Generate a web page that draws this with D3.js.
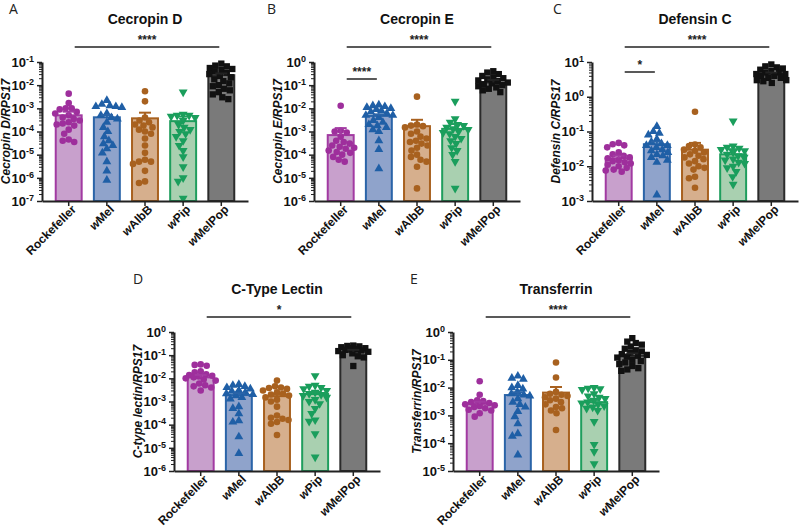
<!DOCTYPE html>
<html>
<head>
<meta charset="utf-8">
<script src="https://cdn.jsdelivr.net/npm/d3@7"></script>
<style>
  html, body { margin: 0; padding: 0; background: #fff; }
  svg { display: block; font-family: "Liberation Sans", Arial, sans-serif; }
</style>
</head>
<body>
<svg id="chart" width="800" height="528"></svg>
<script>
// ---------------- DATA ----------------
const categories = ["Rockefeller", "wMel", "wAlbB", "wPip", "wMelPop"];
const panelLetters = ["A", "B", "C", "D", "E"];
const panelTitles = ["Cecropin D", "Cecropin E", "Defensin C", "C-Type Lectin", "Transferrin"];
const yAxisTitles = ["Cecropin D/RPS17", "Cecropin E/RPS17", "Defensin C/RPS17", "C-type lectin/RPS17", "Transferrin/RPS17"];
// log10 exponent range of each y axis [min, max]
const yExponentRanges = [[-7, -1], [-6, 0], [-3, 1], [-6, 0], [-5, 0]];

// Cecropin D
const cecropinD_means = [5e-4, 4.1e-4, 3.7e-4, 2.8e-4, 2.7e-2];
const cecropinD_caps = [7.2e-4, 5.2e-4, 6.5e-4, 4.4e-4, 3.2e-2];
const cecropinD_points = [
  [4.3e-3, 1.7e-3, 1.0e-3, 1.0e-3, 9e-4, 7e-4, 6e-4, 5e-4, 4e-4, 3.5e-4, 3e-4, 2.5e-4, 2.2e-4, 2e-4, 1.8e-4, 1.2e-4, 8e-5, 4.5e-5, 4e-5, 3.5e-5],
  [2.2e-3, 1.5e-3, 1.3e-3, 1.2e-3, 1.2e-3, 1.1e-3, 6e-4, 5e-4, 4e-4, 3.5e-4, 2.5e-4, 1.5e-4, 1e-4, 6e-5, 4e-5, 3e-5, 2.5e-5, 1.8e-5, 1.2e-5, 5e-6, 2e-6, 8e-7],
  [5.5e-3, 2e-3, 4e-4, 3e-4, 2.5e-4, 2e-4, 1.8e-4, 1.5e-4, 1.2e-4, 1e-4, 8e-5, 5e-5, 2.5e-5, 1.2e-5, 6e-6, 5e-6, 5e-6, 4e-6, 2e-6, 7e-7, 6e-7],
  [5e-3, 5.5e-4, 5e-4, 5e-4, 4.5e-4, 4e-4, 3e-4, 2e-4, 1.5e-4, 1.2e-4, 1e-4, 8e-5, 6e-5, 4e-5, 2.5e-5, 1.5e-5, 8e-6, 3e-6, 1e-6, 7e-7, 1.3e-7],
  [0.085, 0.07, 0.065, 0.055, 0.05, 0.045, 0.04, 0.035, 0.03, 0.025, 0.022, 0.018, 0.015, 0.012, 0.01, 0.009, 0.007, 0.006, 0.005, 0.004, 0.003, 0.0025]
];
const cecropinD_sig = [["Rockefeller", "wMelPop", "****"]];

// Cecropin E
const cecropinE_means = [7e-4, 4.7e-3, 1.7e-3, 1.3e-3, 0.13];
const cecropinE_caps = [1.4e-3, 5.5e-3, 3.2e-3, 2.1e-3, 0.17];
const cecropinE_points = [
  [1.3e-2, 1.1e-3, 1e-3, 9e-4, 6e-4, 4e-4, 3.5e-4, 3e-4, 2.5e-4, 2.2e-4, 2e-4, 1.8e-4, 1.5e-4, 1.3e-4, 1.2e-4, 1e-4, 8e-5, 6e-5, 5e-5],
  [1.4e-2, 1.3e-2, 1.2e-2, 1.1e-2, 1e-2, 9e-3, 8e-3, 7e-3, 6e-3, 5e-3, 5e-3, 4e-3, 3e-3, 2.5e-3, 2e-3, 1.8e-3, 1.5e-3, 1.2e-3, 1e-3, 4e-4, 1.7e-4, 2.5e-5],
  [3.2e-2, 2e-3, 1.8e-3, 1.7e-3, 1.5e-3, 1e-3, 8e-4, 6e-4, 5e-4, 4e-4, 3.5e-4, 3e-4, 2.5e-4, 2e-4, 1.5e-4, 1e-4, 8e-5, 6e-5, 5e-5, 3e-5, 3.5e-6],
  [2e-2, 3.5e-3, 2.5e-3, 2e-3, 1.8e-3, 1.5e-3, 1.3e-3, 1.2e-3, 1e-3, 9e-4, 8e-4, 6e-4, 5e-4, 4e-4, 3e-4, 2e-4, 1.5e-4, 1e-4, 5e-5, 3.5e-6],
  [0.4, 0.35, 0.3, 0.25, 0.22, 0.2, 0.18, 0.16, 0.15, 0.13, 0.12, 0.11, 0.1, 0.09, 0.08, 0.07, 0.06, 0.05]
];
const cecropinE_sig = [["Rockefeller", "wMelPop", "****"], ["Rockefeller", "wMel", "****"]];

// Defensin C
const defensinC_means = [1.7e-2, 4.3e-2, 3e-2, 2.2e-2, 4.5];
const defensinC_caps = [2e-2, 5.1e-2, 4.7e-2, 3.1e-2, 5.0];
const defensinC_points = [
  [4.7e-2, 4.3e-2, 4e-2, 3.5e-2, 2.5e-2, 2.2e-2, 2e-2, 1.8e-2, 1.7e-2, 1.5e-2, 1.4e-2, 1.3e-2, 1.2e-2, 1.1e-2, 1e-2, 9e-3, 8e-3, 7.5e-3, 7e-3],
  [0.14, 0.1, 0.09, 0.08, 0.06, 0.05, 0.045, 0.04, 0.04, 0.035, 0.03, 0.028, 0.025, 0.022, 0.02, 0.018, 0.015, 0.013, 1.5e-3],
  [0.37, 0.042, 0.038, 0.035, 0.03, 0.028, 0.025, 0.022, 0.02, 0.018, 0.016, 0.014, 0.012, 0.01, 0.009, 0.008, 0.005, 0.0045, 0.0024],
  [0.2, 0.038, 0.035, 0.033, 0.03, 0.028, 0.025, 0.022, 0.02, 0.018, 0.016, 0.015, 0.013, 0.012, 0.01, 0.009, 0.007, 0.005, 0.003],
  [8.5, 7.5, 7, 6.5, 6, 5.5, 5, 5, 4.5, 4.5, 4, 4, 3.5, 3.5, 3, 3, 2.8, 2.5]
];
const defensinC_sig = [["Rockefeller", "wMelPop", "****"], ["Rockefeller", "wMel", "*"]];

// C-type lectin
const lectin_means = [1.1e-2, 1.9e-3, 1.7e-3, 2.1e-3, 0.14];
const lectin_caps = [1.4e-2, 2.3e-3, 2.0e-3, 2.6e-3, 0.17];
const lectin_points = [
  [4e-2, 3.8e-2, 3.5e-2, 2e-2, 1.8e-2, 1.5e-2, 1.4e-2, 1.3e-2, 1.2e-2, 1.1e-2, 1e-2, 9e-3, 8e-3, 6e-3, 5e-3, 4.5e-3, 4e-3, 3e-3],
  [5.5e-3, 5e-3, 4.5e-3, 4e-3, 3.5e-3, 3e-3, 2.8e-3, 2.5e-3, 2.2e-3, 2e-3, 1.8e-3, 1.5e-3, 1.3e-3, 6e-4, 5e-4, 3e-4, 1.5e-4, 1.3e-4, 3e-5, 5.7e-6],
  [8e-3, 4.5e-3, 4e-3, 3.8e-3, 3.5e-3, 3e-3, 2.5e-3, 2.2e-3, 2e-3, 1.8e-3, 1.5e-3, 1.2e-3, 1e-3, 6e-4, 2.5e-4, 2e-4, 1.8e-4, 1.6e-4, 1.3e-4, 1.1e-4, 3.6e-5],
  [1.3e-2, 5e-3, 4.5e-3, 4e-3, 3.5e-3, 3e-3, 2.5e-3, 2.2e-3, 2e-3, 1.8e-3, 1.5e-3, 1.2e-3, 1e-3, 8e-4, 5e-4, 3e-4, 1.6e-4, 1.4e-4, 4e-5, 4e-6],
  [0.26, 0.25, 0.24, 0.22, 0.2, 0.2, 0.18, 0.17, 0.16, 0.15, 0.14, 0.12, 0.1, 0.09, 0.08, 0.034]
];
const lectin_sig = [["Rockefeller", "wMelPop", "*"]];

// Transferrin
const transferrin_means = [2.6e-3, 5.4e-3, 6.6e-3, 3e-3, 0.14];
const transferrin_caps = [3.1e-3, 6.8e-3, 1.05e-2, 3.6e-3, 0.17];
const transferrin_points = [
  [1.7e-2, 5.5e-3, 3.5e-3, 3.3e-3, 3e-3, 2.8e-3, 2.5e-3, 2.3e-3, 2.2e-3, 2e-3, 1.8e-3, 1.6e-3, 1.5e-3, 1.2e-3, 9e-4],
  [2.6e-2, 2.2e-2, 2e-2, 1.2e-2, 1e-2, 9e-3, 7e-3, 6e-3, 5.5e-3, 5e-3, 4e-3, 3e-3, 2.5e-3, 2e-3, 1.4e-3, 9e-4, 5e-4, 2.2e-4, 1.8e-4, 3.8e-5],
  [8e-2, 2.3e-2, 7e-3, 6e-3, 5.5e-3, 5e-3, 4.5e-3, 4e-3, 3.5e-3, 3e-3, 2.5e-3, 2e-3, 1.8e-3, 1.5e-3, 1.2e-3, 3e-4],
  [1e-2, 9.5e-3, 9e-3, 8.5e-3, 6e-3, 5e-3, 4.5e-3, 4e-3, 3.5e-3, 3e-3, 2.8e-3, 2.5e-3, 2.2e-3, 2e-3, 1.8e-3, 1.5e-3, 6e-4, 9e-5, 5e-5, 1.8e-5],
  [0.6, 0.45, 0.4, 0.35, 0.3, 0.25, 0.22, 0.2, 0.18, 0.16, 0.15, 0.14, 0.13, 0.12, 0.1, 0.09, 0.08, 0.07, 0.06, 0.05, 0.045, 0.04]
];
const transferrin_sig = [["Rockefeller", "wMelPop", "****"]];

// ---------------- STYLE / LAYOUT ----------------
const pointColors = ["#9e2f9c", "#1f5fa6", "#a8611f", "#1a9e5c", "#111111"];
const barFills = ["#c8a0cc", "#8fa3cb", "#d6af8d", "#a9d0b0", "#7a7a7a"];
const barStrokes = ["#a23aa2", "#2a64a8", "#a8611f", "#1f9e5d", "#2b2b2b"];
const symbolTypes = ["circle", "triangleUp", "circle", "triangleDown", "square"];

const panels = [
  { means: cecropinD_means, caps: cecropinD_caps, points: cecropinD_points, sig: cecropinD_sig, x0: 42, top: 62, bottom: 201, letterX: 9, letterY: 14, sig2Y: null },
  { means: cecropinE_means, caps: cecropinE_caps, points: cecropinE_points, sig: cecropinE_sig, x0: 314, top: 62, bottom: 201, letterX: 267, letterY: 14, sig2Y: 79 },
  { means: defensinC_means, caps: defensinC_caps, points: defensinC_points, sig: defensinC_sig, x0: 592, top: 62, bottom: 201, letterX: 553, letterY: 14, sig2Y: 72 },
  { means: lectin_means, caps: lectin_caps, points: lectin_points, sig: lectin_sig, x0: 174, top: 332, bottom: 471, letterX: 133, letterY: 284, sig2Y: null },
  { means: transferrin_means, caps: transferrin_caps, points: transferrin_points, sig: transferrin_sig, x0: 453, top: 332, bottom: 471, letterX: 410, letterY: 284, sig2Y: null }
];

const svg = d3.select("#chart");
const plotW = 206;
const R = 3;
const MAXOFF = 15;

function swarm(vals, y, r) {
  const pts = vals.map(v => ({ v, py: y(v) })).sort((a, b) => a.py - b.py);
  const placed = [];
  const d = 2 * r;
  for (const p of pts) {
    let chosen = null, bestOff = 0, bestScore = -Infinity;
    for (let k = 0; k < 200; k++) {
      const off = (k % 2 === 0 ? 1 : -1) * Math.ceil(k / 2) * 0.5;
      if (Math.abs(off) > MAXOFF) break;
      let minD = Infinity;
      for (const q of placed) {
        const dx = q.dx - off, dy = q.py - p.py;
        minD = Math.min(minD, Math.sqrt(dx * dx + dy * dy));
      }
      if (minD >= d) { chosen = off; break; }
      if (minD > bestScore) { bestScore = minD; bestOff = off; }
    }
    p.dx = chosen === null ? bestOff : chosen;
    placed.push(p);
  }
  return placed;
}

function superscriptLabel(sel, exp) {
  sel.text(null);
  sel.append("tspan").text("10");
  sel.append("tspan").attr("dy", "-0.55em").attr("font-size", "9px").text(String(exp));
}

panels.forEach((P, pi) => {
  const g = svg.append("g");
  const [emin, emax] = yExponentRanges[pi];
  const y = d3.scaleLog().domain([Math.pow(10, emin), Math.pow(10, emax)]).range([P.bottom, P.top]);
  const x = d3.scaleBand().domain(categories).range([P.x0, P.x0 + plotW]).paddingInner(0.32).paddingOuter(0.36);
  const bw = x.bandwidth();
  const cx = c => x(c) + bw / 2;

  // panel letter
  g.append("text").attr("x", P.letterX).attr("y", P.letterY)
    .attr("font-size", "14px").attr("fill", "#222").attr("font-family", "'Open Sans', 'Liberation Sans', sans-serif")
    .text(panelLetters[pi]);

  // title
  g.append("text").attr("x", P.x0 + plotW / 2).attr("y", P.top - 38)
    .attr("text-anchor", "middle").attr("font-size", "14px").attr("font-weight", "bold").attr("fill", "#111")
    .text(panelTitles[pi]);

  // bars
  categories.forEach((c, i) => {
    g.append("rect")
      .attr("x", x(c)).attr("width", bw)
      .attr("y", y(P.means[i])).attr("height", P.bottom - y(P.means[i]))
      .attr("fill", barFills[i]).attr("stroke", barStrokes[i]).attr("stroke-width", 2);
  });

  // points
  categories.forEach((c, i) => {
    const sw = swarm(P.points[i], y, R);
    const col = pointColors[i];
    sw.forEach(p => {
      const px = cx(c) + p.dx, py = p.py;
      const t = symbolTypes[i];
      if (t === "circle") {
        g.append("circle").attr("cx", px).attr("cy", py).attr("r", R + 0.3).attr("fill", col);
      } else if (t === "square") {
        g.append("path").attr("d", d3.symbol(d3.symbolSquare, 40)()).attr("transform", `translate(${px},${py})`).attr("fill", col);
      } else {
        const rot = t === "triangleDown" ? 180 : 0;
        g.append("path").attr("d", d3.symbol(d3.symbolTriangle, 34)()).attr("transform", `translate(${px},${py}) rotate(${rot})`).attr("fill", col);
      }
    });
  });

  // error bars (upper)
  categories.forEach((c, i) => {
    const col = i === 4 ? "#222" : barStrokes[i];
    const xc = cx(c);
    g.append("line").attr("x1", xc).attr("x2", xc).attr("y1", y(P.means[i])).attr("y2", y(P.caps[i]))
      .attr("stroke", col).attr("stroke-width", 2);
    g.append("line").attr("x1", xc - 6).attr("x2", xc + 6).attr("y1", y(P.caps[i])).attr("y2", y(P.caps[i]))
      .attr("stroke", col).attr("stroke-width", 2);
  });

  // y axis: minor ticks
  const minors = [];
  for (let e = emin; e < emax; e++) for (let m = 2; m <= 9; m++) minors.push(m * Math.pow(10, e));
  const majors = d3.range(emin, emax + 1).map(e => Math.pow(10, e));
  g.append("g").attr("transform", `translate(${P.x0},0)`)
    .call(d3.axisLeft(y).tickValues(minors).tickSize(3).tickSizeOuter(0).tickFormat(""))
    .call(s => s.select(".domain").remove())
    .call(s => s.selectAll("line").attr("stroke", "#222").attr("stroke-width", 1));
  const yAx = g.append("g").attr("transform", `translate(${P.x0},0)`)
    .call(d3.axisLeft(y).tickValues(majors).tickSize(5).tickSizeOuter(0).tickPadding(3).tickFormat(v => ""))
    .call(s => s.select(".domain").attr("stroke", "#222").attr("stroke-width", 2))
    .call(s => s.selectAll("line").attr("stroke", "#222").attr("stroke-width", 1.5));
  yAx.selectAll(".tick text")
    .attr("font-size", "13px").attr("font-weight", "bold").attr("fill", "#111").attr("font-family", "'Liberation Sans', Arial, sans-serif")
    .each(function (v) { superscriptLabel(d3.select(this), Math.round(Math.log10(v))); });

  // y axis title
  g.append("text")
    .attr("transform", `translate(${P.x0 - 32},${(P.top + P.bottom) / 2}) rotate(-90)`)
    .attr("text-anchor", "middle").attr("font-size", "12px").attr("font-weight", "bold").attr("font-style", "italic").attr("fill", "#111")
    .text(yAxisTitles[pi]);

  // x axis
  const xAx = g.append("g").attr("transform", `translate(0,${P.bottom})`)
    .call(d3.axisBottom(x).tickSize(5).tickSizeOuter(0).tickFormat(""))
    .call(s => s.select(".domain").attr("stroke", "#222").attr("stroke-width", 2))
    .call(s => s.selectAll("line").attr("stroke", "#222").attr("stroke-width", 1.5));
  xAx.selectAll(".tick").append("text")
    .attr("transform", "translate(3,4) rotate(-45)")
    .attr("text-anchor", "end").attr("dy", "0.6em")
    .attr("font-size", "12px").attr("font-weight", "bold").attr("fill", "#111").attr("font-family", "'Liberation Sans', Arial, sans-serif")
    .each(function (c) {
      const t = d3.select(this);
      if (c[0] === "w") {
        t.append("tspan").attr("font-style", "italic").text("w");
        t.append("tspan").text(c.slice(1));
      } else {
        t.text(c);
      }
    });

  // significance
  P.sig.forEach((s, si) => {
    const ly = si === 0 ? P.top - 15 : P.sig2Y;
    const x1 = cx(s[0]) + 6, x2 = cx(s[1]) - 2;
    g.append("line").attr("x1", x1).attr("x2", x2).attr("y1", ly).attr("y2", ly)
      .attr("stroke", "#222").attr("stroke-width", 1.5);
    g.append("text").attr("x", (x1 + x2) / 2).attr("y", ly - 3).attr("text-anchor", "middle")
      .attr("font-size", "12px").attr("font-weight", "bold").attr("fill", "#222").text(s[2]);
  });
});
</script>
</body>
</html>
